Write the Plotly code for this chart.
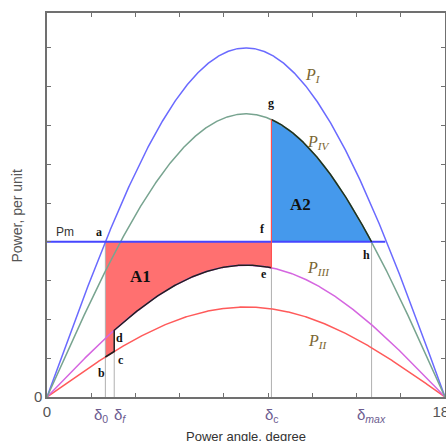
import numpy as np
import plotly.graph_objects as go

# ---- data ----
curve_names = ["P_I", "P_II", "P_III", "P_IV"]
pmax_values = [1.80, 0.464, 0.68, 1.46]       # per-unit amplitudes of the sine curves
pm_value = 0.8                                 # mechanical power
pm_line_end = 153                              # degree where the Pm line stops
delta0 = 26.4
delta_f = 30.4
delta_c = 101.5
delta_max = 146.8
x_tick_vals = [0, 20, 40, 60, 80, 100, 120, 140, 160, 180]
x_tick_text = ["0", "", "", "", "", "", "", "", "", "180"]
y_tick_vals = [0, 0.2, 0.4, 0.6, 0.8, 1.0, 1.2, 1.4, 1.6, 1.8]
y_tick_text = ["0", "", "", "", "", "", "", "", "", ""]

PmI, PmII, PmIII, PmIV = pmax_values


def P(amp, d):
    return amp * np.sin(np.radians(d))


d_all = np.linspace(0, 180, 721)

fig = go.Figure()

# A1 region (red)
d1 = np.linspace(delta0, delta_f, 40)
d2 = np.linspace(delta_f, delta_c, 200)
a1_x = [delta0, delta0] + list(d1) + list(d2) + [delta_c, delta0]
a1_y = [pm_value, P(PmII, delta0)] + list(P(PmII, d1)) + list(P(PmIII, d2)) + [pm_value, pm_value]
fig.add_trace(go.Scatter(x=a1_x, y=a1_y, fill="toself", fillcolor="#ff7070",
                         line=dict(width=0), mode="lines", hoverinfo="skip"))

# A2 region (blue)
d3 = np.linspace(delta_c, delta_max, 200)
a2_x = [delta_c] + list(d3) + [delta_c]
a2_y = [pm_value] + list(P(PmIV, d3)) + [pm_value]
fig.add_trace(go.Scatter(x=a2_x, y=a2_y, fill="toself", fillcolor="#4599ec",
                         line=dict(width=0), mode="lines", hoverinfo="skip"))

# gray vertical guide lines
gray = "#b0b0b0"
for xv, ytop in [(delta0, pm_value), (delta_f, P(PmIII, delta_f)),
                 (delta_c, P(PmIII, delta_c)), (delta_max, pm_value)]:
    fig.add_trace(go.Scatter(x=[xv, xv], y=[0, ytop], mode="lines",
                             line=dict(color=gray, width=1), hoverinfo="skip"))

# sine curves
colors = {"P_I": "#6a6aff", "P_II": "#ff5a5a", "P_III": "#d566e0", "P_IV": "#78a490"}
for name, amp in zip(curve_names, pmax_values):
    fig.add_trace(go.Scatter(x=d_all, y=P(amp, d_all), mode="lines",
                             line=dict(color=colors[name], width=1.5), hoverinfo="skip"))

# Pm line
fig.add_trace(go.Scatter(x=[0, pm_line_end], y=[pm_value, pm_value], mode="lines",
                         line=dict(color="#4646ff", width=2), hoverinfo="skip"))

# black boundary of the trajectory
bx = list(d1) + list(d2)
by = list(P(PmII, d1)) + list(P(PmIII, d2))
fig.add_trace(go.Scatter(x=bx, y=by, mode="lines", line=dict(color="#202020", width=1.5),
                         hoverinfo="skip"))
fig.add_trace(go.Scatter(x=list(d3), y=list(P(PmIV, d3)), mode="lines",
                         line=dict(color="#203020", width=1.5), hoverinfo="skip"))

# red vertical at delta_c (e to g)
fig.add_trace(go.Scatter(x=[delta_c, delta_c], y=[P(PmIII, delta_c), P(PmIV, delta_c)],
                         mode="lines", line=dict(color="#ff5050", width=1.2), hoverinfo="skip"))

ann = []
serif_b = dict(family="Liberation Serif", size=12, color="#111111")
for txt, x, y in [("a", 23.3, 0.85), ("b", 24.8, 0.124), ("c", 33.4, 0.191),
                  ("d", 32.8, 0.304), ("e", 98.2, 0.634), ("f", 97.6, 0.866),
                  ("g", 101.2, 1.517), ("h", 144.3, 0.732)]:
    ann.append(dict(x=x, y=y, text="<b>" + txt + "</b>", showarrow=False, font=serif_b))
for txt, x, y in [("A1", 42.5, 0.62), ("A2", 114.5, 0.995)]:
    ann.append(dict(x=x, y=y, text="<b>" + txt + "</b>", showarrow=False,
                    font=dict(family="Liberation Serif", size=17, color="#111111")))
ann.append(dict(x=8.3, y=0.85, text="Pm", showarrow=False,
                font=dict(family="Liberation Sans", size=12, color="#333333")))
plab = dict(family="Liberation Serif", size=16, color="#7a6530")
for txt, x, y in [("<i>P<sub>I</sub></i>", 120.4, 1.66), ("<i>P<sub>IV</sub></i>", 123.0, 1.31),
                  ("<i>P<sub>III</sub></i>", 123.0, 0.665), ("<i>P<sub>II</sub></i>", 122.4, 0.285)]:
    ann.append(dict(x=x, y=y, text=txt, showarrow=False, font=plab))

dfont = dict(family="Liberation Sans", size=15, color="#6c5c90")
for txt, xv, shift in [("δ<sub>0</sub>", delta0, -4), ("δ<sub><i>f</i></sub>", delta_f, 6),
                       ("δ<sub>c</sub>", delta_c, 1), ("δ<sub><i>max</i></sub>", delta_max, 0)]:
    ann.append(dict(x=xv, y=0, xref="x", yref="paper", yanchor="top", yshift=-7,
                    xanchor="center", xshift=shift,
                    text=txt, showarrow=False, font=dfont))

ann.append(dict(x=0.5, y=0, xref="paper", yref="paper", yanchor="top", yshift=-30,
                text="Power angle, degree", showarrow=False,
                font=dict(family="Liberation Sans", size=13, color="#333333")))
ann.append(dict(x=0, y=0.47, xref="paper", yref="paper", xanchor="center", xshift=-30,
                text="Power, per unit", textangle=-90, showarrow=False,
                font=dict(family="Liberation Sans", size=14, color="#555555")))

axis_common = dict(showgrid=False, zeroline=False, showline=True, linecolor="#707070",
                   linewidth=1.5, ticks="inside", ticklen=4, tickcolor="#707070",
                   mirror="ticks", ticklabeloverflow="allow",
                   tickfont=dict(family="Liberation Sans", size=15, color="#555555"))

fig.update_layout(
    width=446, height=441,
    margin=dict(l=47, r=1, t=13, b=44),
    paper_bgcolor="white", plot_bgcolor="white",
    showlegend=False,
    annotations=ann,
    xaxis=dict(range=[0, 180], tickmode="array", tickvals=x_tick_vals, ticktext=x_tick_text,
               automargin=False, **axis_common),
    yaxis=dict(range=[0, 1.98], tickmode="array", tickvals=y_tick_vals, ticktext=y_tick_text,
               automargin=False, **axis_common),
)

fig.write_html("out.html")
